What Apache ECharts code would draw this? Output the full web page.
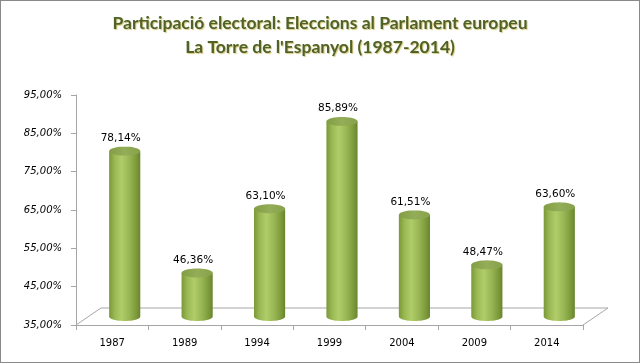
<!DOCTYPE html>
<html>
<head>
<meta charset="utf-8">
<script src="https://cdn.jsdelivr.net/npm/echarts@6/dist/echarts.min.js"></script>
<style>
html,body{margin:0;padding:0;background:#fff;}
#wrap{position:relative;width:640px;height:363px;}
#chart{position:absolute;left:0;top:0;width:640px;height:363px;}
#frame{position:absolute;left:0;top:0;width:638px;height:361px;border:1px solid #8a8a8a;pointer-events:none;}
</style>
</head>
<body>
<div id="wrap"><div id="chart"></div><div id="frame"></div></div>
<script>
const titleLines = ['Participació electoral: Eleccions al Parlament europeu', "La Torre de l'Espanyol (1987-2014)"];
const categories = ['1987', '1989', '1994', '1999', '2004', '2009', '2014'];
const turnout = [78.14, 46.36, 63.10, 85.89, 61.51, 48.47, 63.60];
const yMin = 35, yMax = 95, yStep = 10;

function fmt(v) { return v.toFixed(2).replace('.', ',') + '%'; }

const chart = echarts.init(document.getElementById('chart'), null, {renderer: 'canvas'});

function ellipsePts(cx, cy, rx, ry, a0, a1, n) {
  const pts = [];
  for (let i = 0; i <= n; i++) {
    const a = a0 + (a1 - a0) * i / n;
    pts.push([cx + rx * Math.cos(a), cy + ry * Math.sin(a)]);
  }
  return pts;
}

function depth(bandW) { return {dx: bandW * 0.345, dy: -17}; }

const option = {
  animation: false,
  backgroundColor: '#ffffff',
  title: {
    text: titleLines.join('\n'),
    left: 'center',
    top: 6,
    textStyle: {
      fontFamily: 'Lato', fontWeight: 'bold', fontSize: 17.5, lineHeight: 24,
      color: '#4f6228',
      textShadowColor: 'rgba(190,165,45,0.6)', textShadowOffsetX: 1, textShadowOffsetY: 1, textShadowBlur: 1
    }
  },
  grid: {left: 76, right: 57, top: 95, bottom: 38, containLabel: false},
  xAxis: {
    type: 'category', data: categories, boundaryGap: true,
    axisLine: {show: true, lineStyle: {color: '#a6a6a6', width: 1}},
    axisTick: {show: true, length: 5, alignWithLabel: false, lineStyle: {color: '#a6a6a6'}},
    axisLabel: {color: '#000', fontFamily: 'DejaVu Sans', fontSize: 10, margin: 13},
    splitLine: {show: false}
  },
  yAxis: {
    type: 'value', min: yMin, max: yMax, interval: yStep,
    axisLine: {show: true, lineStyle: {color: '#a6a6a6', width: 1}},
    axisTick: {show: true, length: 5, inside: false, lineStyle: {color: '#a6a6a6'}},
    axisLabel: {color: '#000', fontFamily: 'DejaVu Sans', fontSize: 10, fontStyle: 'italic', margin: 14,
      formatter: v => fmt(v)},
    splitLine: {show: false}
  },
  series: [
    {
      type: 'custom', z: 1, silent: true,
      data: [[0]],
      renderItem: function (params, api) {
        const cs = params.coordSys;
        const bandW = api.size([1, 0])[0];
        const d = depth(bandW);
        const y0 = cs.y + cs.height;
        return {
          type: 'polyline',
          shape: {points: [[cs.x, y0], [cs.x + d.dx, y0 + d.dy], [cs.x + cs.width + d.dx, y0 + d.dy], [cs.x + cs.width, y0]]},
          style: {stroke: '#a6a6a6', fill: null, lineWidth: 1}
        };
      }
    },
    {
      type: 'custom', z: 2,
      data: turnout.map((v, i) => [i, v]),
      renderItem: function (params, api) {
        const i = api.value(0), v = api.value(1);
        const base = api.coord([i, yMin]);
        const top = api.coord([i, v]);
        const bandW = api.size([1, 0])[0];
        const d = depth(bandW);
        const cx = base[0] + d.dx / 2;
        const yb = base[1] + d.dy / 2;
        const yt = top[1] + d.dy / 2;
        const rx = bandW * 0.215, ry = 4.5;
        const bodyPts = [[cx - rx, yt], [cx - rx, yb]]
          .concat(ellipsePts(cx, yb, rx, ry, Math.PI, 0, 24))
          .concat([[cx + rx, yt]]);
        return {
          type: 'group',
          children: [
            {
              type: 'polygon', shape: {points: bodyPts},
              style: {
                fill: {type: 'linear', x: 0, y: 0, x2: 1, y2: 0, colorStops: [
                  {offset: 0, color: '#7a9838'},
                  {offset: 0.18, color: '#9ab853'},
                  {offset: 0.4, color: '#b0cd6a'},
                  {offset: 0.65, color: '#98b653'},
                  {offset: 0.88, color: '#7b993a'},
                  {offset: 1, color: '#68842d'}
                ]},
                stroke: null
              }
            },
            {
              type: 'polygon', shape: {points: ellipsePts(cx, yt, rx, ry, 0, Math.PI * 2, 40)},
              style: {
                fill: {type: 'linear', x: 0, y: 0, x2: 1, y2: 0, colorStops: [
                  {offset: 0, color: '#839d45'},
                  {offset: 0.5, color: '#94ad58'},
                  {offset: 1, color: '#87a24b'}
                ]},
                stroke: null
              }
            },
            {
              type: 'text',
              style: {
                text: fmt(v), x: cx - 4, y: yt - ry - 3,
                textAlign: 'center', textVerticalAlign: 'bottom',
                fill: '#000', fontFamily: 'DejaVu Sans', fontSize: 10.5
              }
            }
          ]
        };
      }
    }
  ]
};
chart.setOption(option);
</script>
</body>
</html>
